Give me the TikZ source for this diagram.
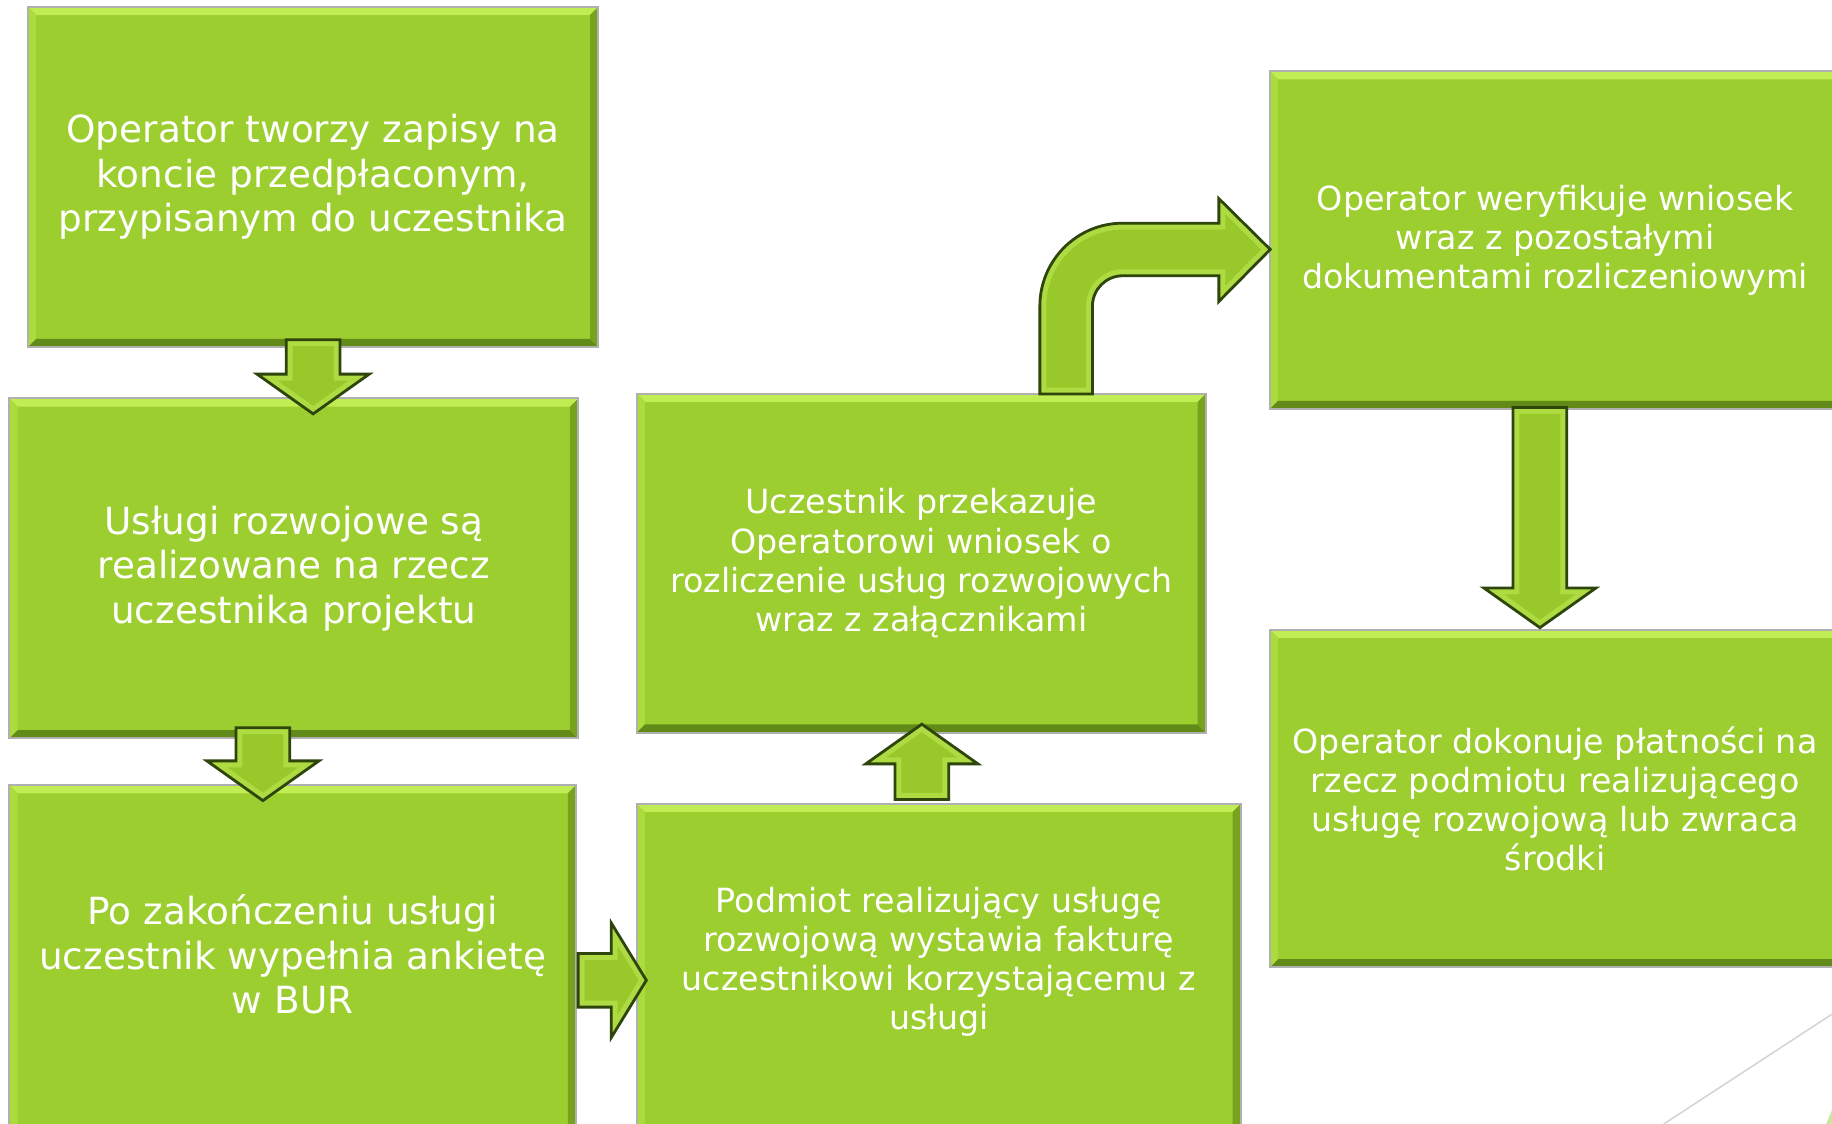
\documentclass[tikz,border=0pt]{standalone}
\usepackage{fontspec}
\setmainfont{DejaVu Sans}
\usetikzlibrary{calc}
\definecolor{boxgreen}{RGB}{155,206,46}
\definecolor{bevtop}{RGB}{192,236,84}
\definecolor{bevleft}{RGB}{170,220,62}
\definecolor{bevbottom}{RGB}{98,138,24}
\definecolor{bevright}{RGB}{118,162,30}
\definecolor{outlinegray}{RGB}{176,176,176}
\definecolor{arrowgreen}{RGB}{152,200,42}
\definecolor{arrowlight}{RGB}{174,218,66}
\definecolor{arrowdark}{RGB}{46,70,12}
\definecolor{decogray}{RGB}{212,212,212}
\definecolor{slivergreen}{RGB}{204,230,160}
\tikzset{
  bevbox/.style={draw=outlinegray, line width=1.6pt, fill=boxgreen, inner sep=0pt,
    path picture={
      \fill[bevtop] (path picture bounding box.north west) -- (path picture bounding box.north east)
        -- ([xshift=-7pt,yshift=-7pt]path picture bounding box.north east)
        -- ([xshift=7pt,yshift=-7pt]path picture bounding box.north west) -- cycle;
      \fill[bevleft] (path picture bounding box.north west) -- (path picture bounding box.south west)
        -- ([xshift=7pt,yshift=7pt]path picture bounding box.south west)
        -- ([xshift=7pt,yshift=-7pt]path picture bounding box.north west) -- cycle;
      \fill[bevbottom] (path picture bounding box.south west) -- (path picture bounding box.south east)
        -- ([xshift=-7pt,yshift=7pt]path picture bounding box.south east)
        -- ([xshift=7pt,yshift=7pt]path picture bounding box.south west) -- cycle;
      \fill[bevright] (path picture bounding box.north east) -- (path picture bounding box.south east)
        -- ([xshift=-7pt,yshift=7pt]path picture bounding box.south east)
        -- ([xshift=-7pt,yshift=-7pt]path picture bounding box.north east) -- cycle;
    }},
  bigtext/.style={text=white, align=center, inner sep=0pt, font=\fontsize{32}{38}\selectfont},
  smalltext/.style={text=white, align=center, inner sep=0pt, font=\fontsize{28.5}{33.5}\selectfont},
  blkedge/.style={draw=arrowdark, line width=2.4pt, line join=miter},
  decoline/.style={draw=decogray, line width=1.3pt}
}
\newcommand{\blkrender}{%
  \begin{scope}
    \path[clip, use path=\blkpath];
    \path[fill=arrowgreen, use path=\blkpath];
    \path[draw=arrowlight, line width=11pt, line join=miter, use path=\blkpath];
  \end{scope}
  \path[blkedge, use path=\blkpath];}
\newcommand{\blkdown}[2]{%
  \path[save path=\blkpath] let \p1=(#1), \p2=(#2) in
    (\x1-23pt,\y1) -- (\x1+23pt,\y1) -- (\x1+23pt,\y2+34pt) -- (\x1+48pt,\y2+34pt)
    -- (\x1,\y2) -- (\x1-48pt,\y2+34pt) -- (\x1-23pt,\y2+34pt) -- cycle;
  \blkrender}
\newcommand{\blkup}[2]{%
  \path[save path=\blkpath] let \p1=(#1), \p2=(#2) in
    (\x1-23pt,\y1) -- (\x1+23pt,\y1) -- (\x1+23pt,\y2-34pt) -- (\x1+48pt,\y2-34pt)
    -- (\x1,\y2) -- (\x1-48pt,\y2-34pt) -- (\x1-23pt,\y2-34pt) -- cycle;
  \blkrender}
\newcommand{\blkright}[2]{%
  \path[save path=\blkpath] let \p1=(#1), \p2=(#2) in
    (\x1,\y1+23pt) -- (\x2-30pt,\y1+23pt) -- (\x2-30pt,\y1+49pt) -- (\x2,\y1)
    -- (\x2-30pt,\y1-49pt) -- (\x2-30pt,\y1-23pt) -- (\x1,\y1-23pt) -- cycle;
  \blkrender}
\newcommand{\blkbent}[2]{%
  \path[save path=\blkpath] let \p1=(#1), \p2=(#2) in
    (\x1-22.5pt,\y1) -- (\x1-22.5pt,\y2-48.5pt)
    arc[start angle=180, end angle=90, radius=71pt]
    -- (\x2-44pt,\y2+22.5pt) -- (\x2-44pt,\y2+43.5pt) -- (\x2,\y2)
    -- (\x2-44pt,\y2-44.5pt) -- (\x2-44pt,\y2-22.5pt)
    -- (\x1+48.5pt,\y2-22.5pt)
    arc[start angle=90, end angle=180, radius=26pt]
    -- (\x1+22.5pt,\y1) -- cycle;
  \blkrender}
\begin{document}
\begin{tikzpicture}[x=1pt,y=-1pt]
\useasboundingbox (0,0) rectangle (1568,962);
\clip (0,0) rectangle (1568,962);
\fill[white] (0,0) rectangle (1568,962);

% boxes
\node[bevbox, minimum width=488pt, minimum height=291pt] (b1) at (268,151.5) {};
\node[bigtext] (t1) at (b1.center) {Operator tworzy zapisy na\\koncie przedpłaconym,\\przypisanym do uczestnika};

\node[bevbox, minimum width=487pt, minimum height=291pt] (b2) at (251.5,486.5) {};
\node[bigtext] (t2) at (b2.center) {Usługi rozwojowe są\\realizowane na rzecz\\uczestnika projektu};

\node[bevbox, minimum width=485pt, minimum height=300pt] (b3) at (250.5,822) {};
\node[bigtext] (t3) at (250.5,817) {Po zakończeniu usługi\\uczestnik wypełnia ankietę\\w BUR};

\node[bevbox, minimum width=517pt, minimum height=284pt] (b4) at (803.5,830) {};
\node[smalltext] (t4) at (803.5,823) {Podmiot realizujący usługę\\rozwojową wystawia fakturę\\uczestnikowi korzystającemu z\\usługi};

\node[bevbox, minimum width=487pt, minimum height=290pt] (b5) at (788.5,482) {};
\node[smalltext] (t5) at (b5.center) {Uczestnik przekazuje\\Operatorowi wniosek o\\rozliczenie usług rozwojowych\\wraz z załącznikami};

\node[bevbox, minimum width=488pt, minimum height=289pt] (b6) at (1331,205.5) {};
\node[smalltext] (t6) at (b6.center) {Operator weryfikuje wniosek\\wraz z pozostałymi\\dokumentami rozliczeniowymi};

\node[bevbox, minimum width=488pt, minimum height=289pt] (b7) at (1331,683.5) {};
\node[smalltext] (t7) at (b7.center) {Operator dokonuje płatności na\\rzecz podmiotu realizującego\\usługę rozwojową lub zwraca\\środki};

% arrow anchor coordinates
\coordinate (a1s) at ($(b1.south)+(0,-7)$);
\coordinate (a1e) at ($(b2.north)+(0,14)$);
\coordinate (a2s) at ($(b2.south)+(-26.5,-10)$);
\coordinate (a2e) at ($(b3.north)+(-25.5,14)$);
\coordinate (a3s) at ($(b3.east)+(1,17)$);
\coordinate (a3e) at ($(b4.west)+(9,9)$);
\coordinate (a4s) at ($(b4.north)+(-14.5,-3)$);
\coordinate (a4e) at ($(b5.south)+(0.5,-8)$);
\coordinate (a5s) at ($(b5.north)+(124,1)$);
\coordinate (a5e) at ($(b6.west)+(1,8)$);
\coordinate (a6s) at ($(b6.south)+(-13,-2)$);
\coordinate (a6e) at ($(b7.north)+(-13,-1)$);

% block arrows
\blkdown{a1s}{a1e}
\blkdown{a2s}{a2e}
\blkright{a3s}{a3e}
\blkup{a4s}{a4e}
\blkdown{a6s}{a6e}
\blkbent{a5s}{a5e}

% slide decoration
\draw[decoline] (1424,962) -- (1568,868);
\fill[slivergreen] (1563,962) -- (1568,962) -- (1568,950) -- cycle;
\end{tikzpicture}
\end{document}
